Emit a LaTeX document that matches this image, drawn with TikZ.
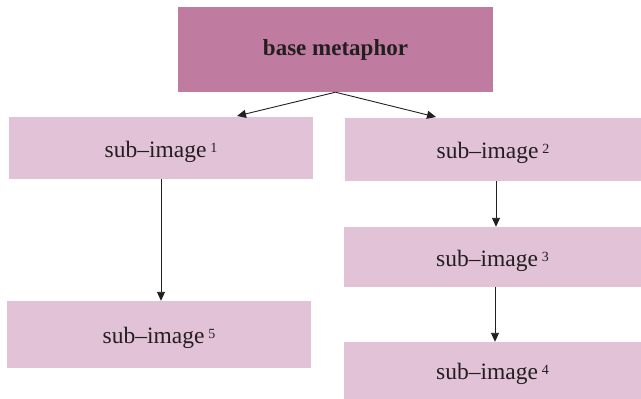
\documentclass[tikz,border=0pt]{standalone}
\usepackage{fontspec}
\setmainfont{Liberation Serif}
\usetikzlibrary{arrows.meta}
\definecolor{basefill}{HTML}{C07BA0}
\definecolor{subfill}{HTML}{E2C2D7}
\definecolor{ink}{HTML}{231F20}
\tikzset{
  basebox/.style={fill=basefill, draw=none, inner sep=0pt, text=ink,
    font=\fontsize{23}{26}\selectfont\bfseries},
  subbox/.style={fill=subfill, draw=none, inner sep=0pt, text=ink,
    text height=22pt, text depth=4pt,
    font=\fontsize{23.5}{27}\selectfont},
  link/.style={draw=ink, line width=0.9pt, -{Triangle[length=9pt,width=8pt]}}
}
\newcommand{\subimg}[1]{sub–image\,\raisebox{5pt}{\fontsize{14}{16}\selectfont #1}}
\begin{document}
\begin{tikzpicture}[x=1pt, y=-1pt]
  \useasboundingbox (0,0) rectangle (641,399);
  % boxes: corners given in picture units, y grows downward
  \node[basebox, minimum width=315pt, minimum height=85pt] (base) at (335.5,49.5) {base metaphor};
  \node[subbox, minimum width=304pt, minimum height=62pt] (s1) at (161,148) {\subimg{1}};
  \node[subbox, minimum width=296pt, minimum height=63pt] (s2) at (493,149.5) {\subimg{2}};
  \node[subbox, minimum width=297pt, minimum height=60pt] (s3) at (492.5,257) {\subimg{3}};
  \node[subbox, minimum width=297pt, minimum height=57pt] (s4) at (492.5,370.5) {\subimg{4}};
  \node[subbox, minimum width=304pt, minimum height=67pt] (s5) at (159,334.5) {\subimg{5}};
  % connectors
  \coordinate (split) at (base.south);
  \coordinate (t1) at (237,116);
  \coordinate (t2) at (436,117);
  \draw[link] (split) -- (t1);
  \draw[link] (split) -- (t2);
  \draw[link] (s1.south -| 161,0) -- (s5.north -| 161,0);
  \draw[link] (s2.south -| 496,0) -- (s3.north -| 496,0);
  \draw[link] (s3.south -| 495,0) -- (s4.north -| 495,0);
\end{tikzpicture}
\end{document}
